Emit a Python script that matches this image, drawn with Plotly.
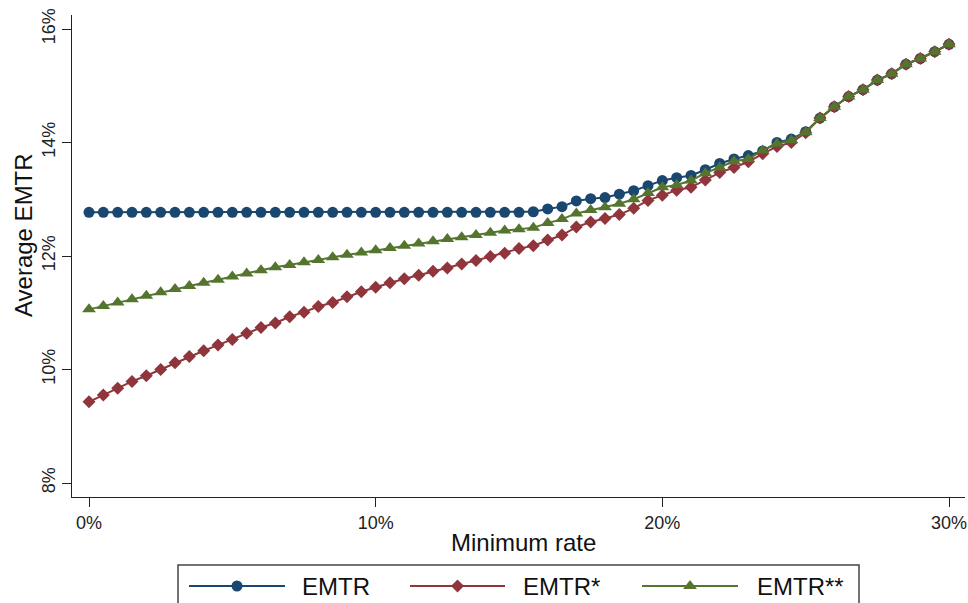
import plotly.graph_objects as go

# ---------------- data ----------------
min_rate = [0, 0.5, 1, 1.5, 2, 2.5, 3, 3.5, 4, 4.5, 5, 5.5, 6, 6.5, 7, 7.5, 8, 8.5, 9, 9.5,
            10, 10.5, 11, 11.5, 12, 12.5, 13, 13.5, 14, 14.5, 15, 15.5, 16, 16.5, 17, 17.5,
            18, 18.5, 19, 19.5, 20, 20.5, 21, 21.5, 22, 22.5, 23, 23.5, 24, 24.5, 25, 25.5,
            26, 26.5, 27, 27.5, 28, 28.5, 29, 29.5, 30]

emtr = [12.77, 12.77, 12.77, 12.77, 12.77, 12.77, 12.77, 12.77, 12.77, 12.77,
        12.77, 12.77, 12.77, 12.77, 12.77, 12.77, 12.77, 12.77, 12.77, 12.77,
        12.77, 12.77, 12.77, 12.77, 12.77, 12.77, 12.77, 12.77, 12.77, 12.77,
        12.77, 12.78, 12.83, 12.87, 12.97, 13.01, 13.03, 13.09, 13.15, 13.24,
        13.33, 13.38, 13.42, 13.52, 13.63, 13.71, 13.77, 13.85, 14.00, 14.06,
        14.19, 14.43, 14.63, 14.81, 14.93, 15.10, 15.21, 15.38, 15.48, 15.60, 15.73]

emtr_star = [9.43, 9.55, 9.67, 9.79, 9.89, 10.00, 10.12, 10.23, 10.33, 10.43,
             10.53, 10.64, 10.74, 10.82, 10.93, 11.01, 11.11, 11.18, 11.28, 11.37,
             11.45, 11.53, 11.60, 11.66, 11.73, 11.79, 11.86, 11.92, 11.99, 12.05,
             12.13, 12.18, 12.28, 12.37, 12.51, 12.60, 12.66, 12.73, 12.84, 12.98,
             13.07, 13.16, 13.21, 13.34, 13.47, 13.56, 13.66, 13.80, 13.93, 14.00,
             14.17, 14.43, 14.63, 14.81, 14.93, 15.10, 15.21, 15.38, 15.48, 15.60, 15.73]

emtr_2star = [11.06, 11.12, 11.18, 11.24, 11.30, 11.36, 11.42, 11.47, 11.53, 11.58,
              11.64, 11.69, 11.75, 11.80, 11.84, 11.89, 11.93, 11.98, 12.02, 12.06,
              12.10, 12.14, 12.18, 12.22, 12.26, 12.30, 12.33, 12.37, 12.41, 12.45,
              12.47, 12.50, 12.58, 12.65, 12.75, 12.81, 12.86, 12.92, 13.00, 13.11,
              13.21, 13.25, 13.33, 13.46, 13.56, 13.67, 13.71, 13.86, 13.98, 14.04,
              14.18, 14.43, 14.63, 14.81, 14.93, 15.10, 15.21, 15.38, 15.48, 15.60, 15.73]

series_names = ["EMTR", "EMTR*", "EMTR**"]
x_ticks = [0, 10, 20, 30]
x_tick_labels = ["0%", "10%", "20%", "30%"]
y_ticks = [8, 10, 12, 14, 16]
y_tick_labels = ["8%", "10%", "12%", "14%", "16%"]
x_title = "Minimum rate"
y_title = "Average EMTR"

# ---------------- styles ----------------
W, H = 968, 603
colors = ["#1a476f", "#90353b", "#55752f"]
symbols = ["circle", "diamond", "triangle-up"]
msizes = [11, 10, 12]
FONT = "Liberation Sans, Arial, sans-serif"
AX = "#222222"

# plot area in pixels
PL, PR, PT, PB = 72, 965, 15, 497

fig = go.Figure()

for vals, name, c, s, ms in zip([emtr, emtr_star, emtr_2star], series_names, colors, symbols, msizes):
    fig.add_trace(go.Scatter(
        x=min_rate, y=vals, name=name, mode="lines+markers",
        line=dict(color=c, width=2),
        marker=dict(symbol=s, size=ms, color=c, line=dict(width=0)),
        showlegend=False, xaxis="x", yaxis="y", cliponaxis=False,
    ))

# ---------------- custom legend (own axis, pixel units) ----------------
leg_box = dict(x0=178, x1=859, y0=565, y1=640)
leg_y = 586
leg_line_x = [(189, 285), (410, 505), (642, 738)]
leg_text_x = [300, 521, 755]

for name, c, s, ms, (a, b), tx in zip(series_names, colors, symbols, msizes, leg_line_x, leg_text_x):
    fig.add_trace(go.Scatter(
        x=[a, b], y=[leg_y, leg_y], mode="lines",
        line=dict(color=c, width=2), showlegend=False, hoverinfo="skip",
        xaxis="x2", yaxis="y2",
    ))
    fig.add_trace(go.Scatter(
        x=[(a + b) / 2], y=[leg_y], mode="markers",
        marker=dict(symbol=s, size=ms, color=c, line=dict(width=0)),
        showlegend=False, hoverinfo="skip", xaxis="x2", yaxis="y2",
    ))
    fig.add_annotation(x=tx, y=leg_y, xref="x2", yref="y2", text=name, showarrow=False,
                       xanchor="left", yanchor="middle",
                       font=dict(family=FONT, size=24, color="#111111"))

fig.add_shape(type="rect", xref="x2", yref="y2", **leg_box,
              line=dict(color="#444444", width=1.5), fillcolor="rgba(0,0,0,0)")

# ---------------- axis titles ----------------
fig.add_annotation(x=523 / W, y=(H - 542) / H, xref="paper", yref="paper", text=x_title,
                   showarrow=False, xanchor="center", yanchor="middle",
                   font=dict(family=FONT, size=24, color="#111111"))
fig.add_annotation(x=23 / W, y=(H - 235) / H, xref="paper", yref="paper", text=y_title,
                   showarrow=False, xanchor="center", yanchor="middle", textangle=-90,
                   font=dict(family=FONT, size=24, color="#111111"))

# axis ranges derived from tick pixel positions
x_px = (89, 949)   # pixel of 0% and 30%
y_px = (483, 29)   # pixel of 8% and 16%
xs = (x_ticks[-1] - x_ticks[0]) / (x_px[1] - x_px[0])
ys = (y_ticks[-1] - y_ticks[0]) / (y_px[0] - y_px[1])
x_range = [x_ticks[0] - (x_px[0] - PL) * xs, x_ticks[-1] + (PR - x_px[1]) * xs]
y_range = [y_ticks[0] - (PB - y_px[0]) * ys, y_ticks[-1] + (y_px[1] - PT) * ys]

fig.update_layout(
    width=W, height=H,
    margin=dict(l=0, r=0, t=0, b=0, autoexpand=False),
    paper_bgcolor="white", plot_bgcolor="white",
    font=dict(family=FONT, color=AX),
    xaxis=dict(domain=[PL / W, PR / W], range=x_range, tickmode="array",
               tickvals=x_ticks, ticktext=x_tick_labels, automargin=False,
               showgrid=False, zeroline=False, showline=True, linecolor=AX, linewidth=1.3,
               ticks="outside", ticklen=9, tickwidth=1.3, tickcolor=AX,
               tickfont=dict(family=FONT, size=18, color="#222222"), anchor="y"),
    yaxis=dict(domain=[(H - PB) / H, (H - PT) / H], range=y_range, tickmode="array",
               tickvals=y_ticks, ticktext=y_tick_labels, tickangle=-90, automargin=False,
               showgrid=False, zeroline=False, showline=True, linecolor=AX, linewidth=1.3,
               ticks="outside", ticklen=9, tickwidth=1.3, tickcolor=AX,
               tickfont=dict(family=FONT, size=18, color="#222222"), anchor="x"),
    xaxis2=dict(domain=[0, 1], range=[0, W], visible=False, anchor="y2", automargin=False),
    yaxis2=dict(domain=[0, (H - PB) / H], range=[H, PB], visible=False, anchor="x2",
                automargin=False),
)

fig.write_html("out.html")
